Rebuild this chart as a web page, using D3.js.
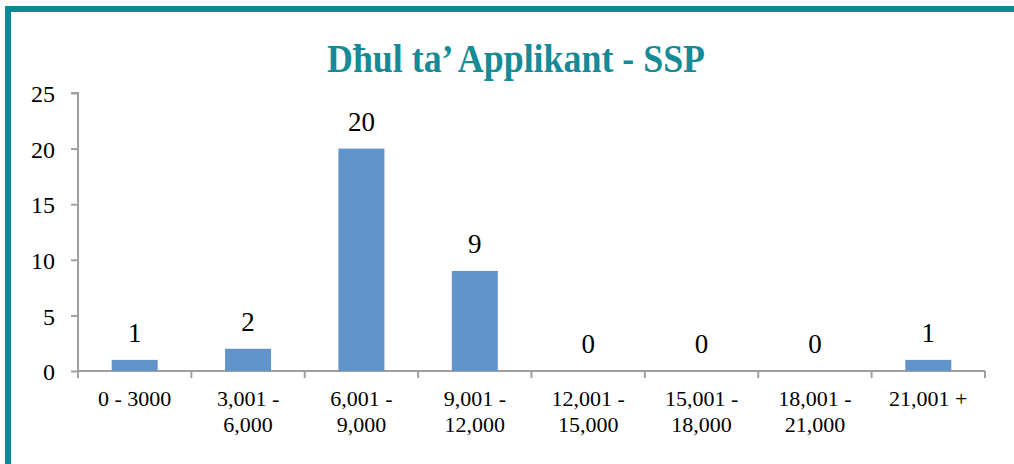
<!DOCTYPE html>
<html><head><meta charset="utf-8">
<script src="https://cdn.jsdelivr.net/npm/d3@7"></script>
<style>body{margin:0;background:#fff}svg{display:block}</style>
</head><body>
<script>
const title = "Dħul ta’ Applikant - SSP";
const categories = [["0 - 3000"],["3,001 -","6,000"],["6,001 -","9,000"],["9,001 -","12,000"],["12,001 -","15,000"],["15,001 -","18,000"],["18,001 -","21,000"],["21,001 +"]];
const values = [1,2,20,9,0,0,0,1];
const yTicks = [0,5,10,15,20,25];

const W=1014,H=464;
const FONT="Liberation Serif";
const svg=d3.select("body").append("svg").attr("width",W).attr("height",H);
const teal="#0e8896";
svg.append("rect").attr("x",5).attr("y",6).attr("width",W-5).attr("height",6).attr("fill",teal);
svg.append("rect").attr("x",5).attr("y",6).attr("width",6).attr("height",H-6).attr("fill",teal);

svg.append("text").attr("x",516).attr("y",72).attr("text-anchor","middle")
  .style("font-family",FONT).attr("font-weight","bold").attr("font-size",39)
  .attr("textLength",378).attr("lengthAdjust","spacingAndGlyphs")
  .attr("fill","#178a97").text(title);

const x=d3.scaleBand().domain(d3.range(categories.length)).range([78,985]).padding(0);
const y=d3.scaleLinear().domain([0,25]).range([371,93]);
const grey="#a0a0a0";

// y axis
const ya=svg.append("g").attr("transform","translate(78,0)").attr("font-family",FONT)
  .call(d3.axisLeft(y).tickValues(yTicks).tickSize(7).tickPadding(16));
ya.attr("font-family",FONT);
ya.select(".domain").attr("stroke",grey).attr("stroke-width",2).attr("d","M-7,93H0V371");
ya.selectAll(".tick line").attr("stroke",grey).attr("stroke-width",2);
ya.selectAll(".tick text").style("font-family",FONT).attr("font-size",24).attr("dy","0.36em").attr("fill","#000");

// x axis
const xa=svg.append("g").attr("transform","translate(0,371)");
xa.append("line").attr("x1",78).attr("x2",985).attr("stroke",grey).attr("stroke-width",2);
const edges=d3.range(categories.length+1).map(i=>i<categories.length?x(i):x(categories.length-1)+x.bandwidth());
xa.selectAll(".tk").data(edges).join("line").attr("x1",d=>d).attr("x2",d=>d).attr("y1",0).attr("y2",7)
  .attr("stroke",grey).attr("stroke-width",2);

const bw=46;
svg.selectAll(".bar").data(values).join("rect")
  .attr("x",(d,i)=>x(i)+x.bandwidth()/2-bw/2).attr("width",bw)
  .attr("y",d=>y(d)).attr("height",d=>371-y(d)).attr("fill","#6194c9");

svg.selectAll(".lbl").data(values).join("text")
  .attr("x",(d,i)=>x(i)+x.bandwidth()/2).attr("y",d=>y(d)-18)
  .attr("text-anchor","middle").style("font-family",FONT).attr("font-size",27).text(d=>d);

const cl=svg.selectAll(".cat").data(categories).join("text")
  .attr("text-anchor","middle").style("font-family",FONT).attr("font-size",22);
cl.each(function(lines,i){
  const t=d3.select(this);
  lines.forEach((s,j)=>t.append("tspan").attr("x",x(i)+x.bandwidth()/2).attr("y",406+j*26).text(s));
});
</script>
</body></html>
